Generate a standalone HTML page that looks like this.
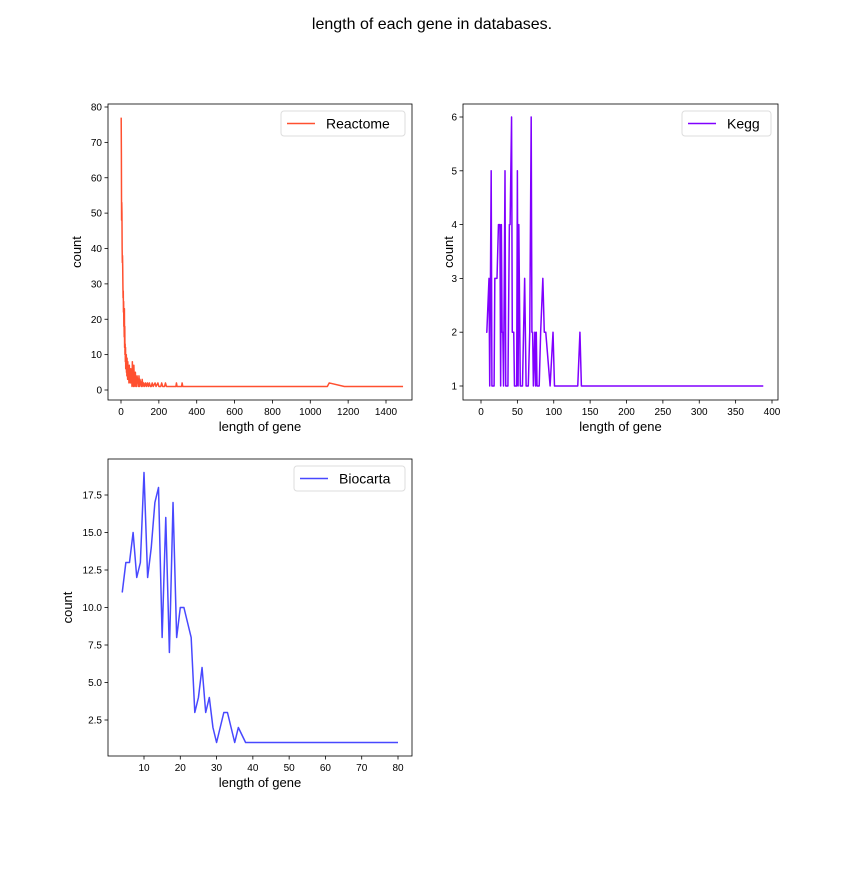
<!DOCTYPE html>
<html><head><meta charset="utf-8"><style>
body{margin:0;background:#fff;}
svg text{font-family:"Liberation Sans","DejaVu Sans",sans-serif;fill:#000;}
</style></head><body>
<svg id="chart" width="864" height="864" xmlns="http://www.w3.org/2000/svg"><rect width="864" height="864" fill="#fff"/><text x="432" y="29" text-anchor="middle" font-size="16">length of each gene in databases.</text></svg>
<script>
const reactomeX=[1,2,3,4,5,6,7,8,9,10,11,12,13,14,15,16,17,18,19,20,21,22,23,24,25,26,27,28,29,30,31,32,33,34,35,36,38,40,42,44,46,48,50,52,54,56,58,60,62,64,66,68,70,72,74,76,78,80,82,85,88,90,92,95,98,100,104,108,112,116,120,125,130,135,140,145,150,155,160,165,170,180,185,195,200,210,215,220,230,235,240,290,293,296,320,323,326,1090,1100,1180,1490];
const reactomeY=[77,67,48,53,50,40,36,38,35,30,26,28,22,25,18,20,15,23,12,18,10,13,8,12,6,9,7,10,5,8,4,9,6,7,3,8,4,6,2,7,3,5,2,6,3,4,1,8,2,5,1,7,3,4,1,5,2,3,1,4,2,3,1,4,1,3,2,1,3,1,2,1,2,1,2,1,2,1,1,2,1,2,1,2,1,1,2,1,1,2,1,1,2,1,1,2,1,1,2,1,1];
const keggX=[7,8,11,12,14,15,18,19,22,24,26,27,28,29,30,31,33,34,37,39,40,42,43,45,46,49,50,51,52,54,57,60,62,65,67,69,70,71,72,74,75,76,77,80,82,85,87,89,95,99,101,133,136,138,388];
const keggY=[2,2,3,1,5,1,1,3,3,4,4,1,4,2,2,1,5,1,1,4,4,6,2,2,1,1,5,1,4,1,1,3,1,1,2,6,2,2,1,2,1,2,1,1,2,3,2,2,1,2,1,1,2,1,1];
const biocartaX=[4,5,6,7,8,9,10,11,12,13,14,15,16,17,18,19,20,21,22,23,24,25,26,27,28,29,30,31,32,33,34,35,36,38,39,40,50,60,70,80];
const biocartaY=[11,13,13,15,12,13,19,12,14,17,18,8,16,7,17,8,10,10,9,8,3,4,6,3,4,2,1,2,3,3,2,1,2,1,1,1,1,1,1,1];
const reactomeXTicks=[0,200,400,600,800,1000,1200,1400];
const reactomeYTicks=[0,10,20,30,40,50,60,70,80];
const keggXTicks=[0,50,100,150,200,250,300,350,400];
const keggYTicks=[1,2,3,4,5,6];
const biocartaXTicks=[10,20,30,40,50,60,70,80];
const biocartaYTicks=[2.5,5.0,7.5,10.0,12.5,15.0,17.5];

const NS="http://www.w3.org/2000/svg";
const svg=document.getElementById('chart');
function mk(t,a,p){const e=document.createElementNS(NS,t);for(const k in a)e.setAttribute(k,a[k]);(p||svg).appendChild(e);return e;}

function panel(o){
  const g=mk('g',{});
  
  
  const sx=v=>o.L+(v-o.x0)/(o.x1-o.x0)*(o.R-o.L);
  const sy=v=>o.B-(v-o.y0)/(o.y1-o.y0)*(o.B-o.T);
  o.xt.forEach(t=>{const x=sx(t);
    mk('line',{x1:x,x2:x,y1:o.B,y2:o.B+3.5,stroke:'#000','stroke-width':0.8},g);
    const tx=mk('text',{x:x,y:o.B+15,'text-anchor':'middle','font-size':10},g);tx.textContent=t;
    
    });
  o.yt.forEach(t=>{const y=sy(t);
    mk('line',{x1:o.L-3.5,x2:o.L,y1:y,y2:y,stroke:'#000','stroke-width':0.8},g);
    const tx=mk('text',{x:o.L-6,y:y+3.5,'text-anchor':'end','font-size':10},g);tx.textContent=o.fmt?t.toFixed(1):t;
    
    });
  let d='';o.xs.forEach((x,i)=>{d+=(i?'L':'M')+sx(x).toFixed(2)+','+sy(o.ys[i]).toFixed(2);});
  const p=mk('path',{d:d,fill:'none',stroke:o.c,'stroke-width':1.5,'stroke-linejoin':'round'},g);
  
  
  const fr=mk('rect',{x:o.L,y:o.T,width:o.R-o.L,height:o.B-o.T,fill:'none',stroke:'#000','stroke-width':0.8},g);
  
  
  const xl=mk('text',{x:(o.L+o.R)/2,y:o.B+31,'text-anchor':'middle','font-size':13},g);xl.textContent='length of gene';
  
  
  const yl=mk('text',{x:0,y:0,'text-anchor':'middle','font-size':13,transform:`translate(${o.ylx},${(o.T+o.B)/2}) rotate(-90)`},g);yl.textContent='count';
  
  
  const lg=mk('g',{},g);
  
  
  mk('rect',{x:o.lx,y:o.T+7,width:o.R-7-o.lx,height:25,rx:3,fill:'#fff',stroke:'#ddd'},lg);
  mk('line',{x1:o.lx+6,x2:o.lx+34,y1:o.T+19.5,y2:o.T+19.5,stroke:o.c,'stroke-width':1.5},lg);
  const lt=mk('text',{x:o.lx+45,y:o.T+24.5,'font-size':14},lg);lt.textContent=o.label;
}
function panel2(o){
  const L=o.L,R=o.R;
  const a=(o.px1-o.px0)/(o.v1-o.v0);
  o.x0=o.v0-(o.px0-L)/a; o.x1=o.v0+(R-o.px0)/a;
  const b=(o.py0-o.py1)/(o.w1-o.w0);
  o.y0=o.w0-(o.B-o.py0)/b; o.y1=o.w0+(o.py0-o.T)/b;
  panel(o);
}
panel2({name:'reactome',label:'Reactome',c:'#ff5030',L:108,R:412,T:104,B:400,px0:121,px1:386,v0:0,v1:1400,py0:390,py1:107,w0:0,w1:80,xt:reactomeXTicks,yt:reactomeYTicks,xs:reactomeX,ys:reactomeY,ylx:81,lx:281});
panel2({name:'kegg',label:'Kegg',c:'#8000ff',L:463,R:778,T:104,B:400,px0:481,px1:772,v0:0,v1:400,py0:386,py1:117,w0:1,w1:6,xt:keggXTicks,yt:keggYTicks,xs:keggX,ys:keggY,ylx:453,lx:682});
panel2({name:'biocarta',label:'Biocarta',c:'#4848ff',L:108,R:412,T:459,B:756,px0:144,px1:398,v0:10,v1:80,py0:720,py1:495,w0:2.5,w1:17.5,xt:biocartaXTicks,yt:biocartaYTicks,xs:biocartaX,ys:biocartaY,ylx:72,lx:294,fmt:true});
</script>
</body></html>
